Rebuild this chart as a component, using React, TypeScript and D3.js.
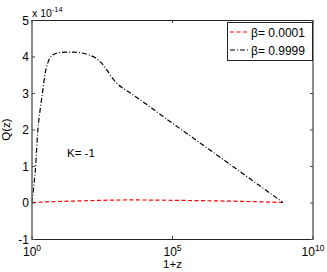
import React from 'react';
import * as d3 from 'd3';

// log10(1+z) and Q(z)/1e-14
const blackLogZ = [0, 0.05, 0.12, 0.21, 0.3, 0.39, 0.46, 0.56, 0.68, 0.8, 0.93, 1.2, 1.5, 1.75, 2.0, 2.24, 2.5, 2.7, 2.85, 2.99, 3.2, 3.42, 5.0, 7.0, 8.93];
const blackQ = [0, 0.35, 0.9, 2.0, 2.6, 3.1, 3.5, 3.82, 4.0, 4.07, 4.1, 4.12, 4.12, 4.1, 4.05, 3.97, 3.8, 3.59, 3.42, 3.29, 3.15, 3.04, 2.17, 1.07, 0];
const redLogZ = [0, 0.5, 1.0, 1.5, 2.5, 3.5, 5.0, 6.5, 8.0, 8.93];
const redQ = [0, 0.015, 0.03, 0.04, 0.06, 0.07, 0.06, 0.045, 0.02, 0];

const yTicks = [-1, 0, 1, 2, 3, 4, 5];
const xTickExps = [0, 5, 10];
const legendLabels = ['β= 0.0001', 'β= 0.9999'];

const W = 327;
const H = 272;
const m = { left: 32, right: 14, top: 20, bottom: 33 };

export default function App() {
  const x = d3.scaleLog().domain([1, 1e10]).range([m.left, W - m.right]);
  const y = d3.scaleLinear().domain([-1, 5]).range([H - m.bottom, m.top]);

  const line = d3.line<[number, number]>()
    .x(d => x(Math.pow(10, d[0])))
    .y(d => y(d[1]))
    .curve(d3.curveMonotoneX);

  const blackPts = blackLogZ.map((v, i) => [v, blackQ[i]] as [number, number]);
  const redPts = redLogZ.map((v, i) => [v, redQ[i]] as [number, number]);

  const x0 = m.left, x1 = W - m.right, y0 = m.top, y1 = H - m.bottom;
  const font = '"Liberation Sans", Arial, sans-serif';

  return (
    <svg width={W} height={H} style={{ position: 'absolute', left: 0, top: 0, background: '#fff' }} fontFamily={font}>
      <rect x={0} y={0} width={W} height={H} fill="#fff" />

      {/* curves */}
      <path d={line(redPts) ?? ''} fill="none" stroke="#ff0000" strokeWidth={1.2} strokeDasharray="4,2.5" />
      <path d={line(blackPts) ?? ''} fill="none" stroke="#000" strokeWidth={1.2} strokeDasharray="5,2,1,2" />

      {/* axes box */}
      <line x1={x0} x2={x1} y1={y0 + 0.5} y2={y0 + 0.5} stroke="#222" />
      <line x1={x0} x2={x1} y1={y1 + 0.5} y2={y1 + 0.5} stroke="#222" />
      <line x1={x0} x2={x0} y1={y0} y2={y1 + 1} stroke="#666" strokeWidth={1.5} />
      <line x1={x1} x2={x1} y1={y0} y2={y1 + 1} stroke="#666" strokeWidth={1.5} />

      {/* y ticks */}
      {yTicks.map(t => (
        <g key={t}>
          <line x1={x0} x2={x0 + 3} y1={y(t) + 0.5} y2={y(t) + 0.5} stroke="#444" />
          <line x1={x1 - 3} x2={x1} y1={y(t) + 0.5} y2={y(t) + 0.5} stroke="#444" />
          <text x={x0 - 3} y={y(t) + 4.5} fontSize={12} textAnchor="end">{t}</text>
        </g>
      ))}

      {/* x ticks */}
      {xTickExps.map(e => (
        <g key={e}>
          <line x1={x(Math.pow(10, e))} x2={x(Math.pow(10, e))} y1={y1 - 3} y2={y1} stroke="#444" />
          <line x1={x(Math.pow(10, e))} x2={x(Math.pow(10, e))} y1={y0} y2={y0 + 3} stroke="#444" />
          <text x={x(Math.pow(10, e))} y={y1 + 17} fontSize={12} textAnchor="middle">
            10<tspan dy={-5} fontSize={8.5}>{e}</tspan>
          </text>
        </g>
      ))}

      {/* multiplier */}
      <text x={x0} y={y0 - 3} fontSize={10.5}>
        x 10<tspan dy={-5} fontSize={7.5}>-14</tspan>
      </text>

      {/* axis labels */}
      <text x={x(1e5)} y={y1 + 29} fontSize={11.5} textAnchor="middle">1+z</text>
      <text transform={`translate(10,${(y0 + y1) / 2}) rotate(-90)`} fontSize={11.5} textAnchor="middle">Q(z)</text>

      <text x={67} y={157} fontSize={11.5}>K= -1</text>

      {/* legend */}
      <rect x={227.5} y={22.5} width={85} height={38} fill="#fff" stroke="#222" />
      <line x1={230} x2={248} y1={32} y2={32} stroke="#ff0000" strokeWidth={1.2} strokeDasharray="4,2.5" />
      <line x1={230} x2={248} y1={50} y2={50} stroke="#000" strokeWidth={1.2} strokeDasharray="5,2,1,2" />
      <text x={251} y={36.5} fontSize={12}>{legendLabels[0]}</text>
      <text x={251} y={54.5} fontSize={12}>{legendLabels[1]}</text>
    </svg>
  );
}
